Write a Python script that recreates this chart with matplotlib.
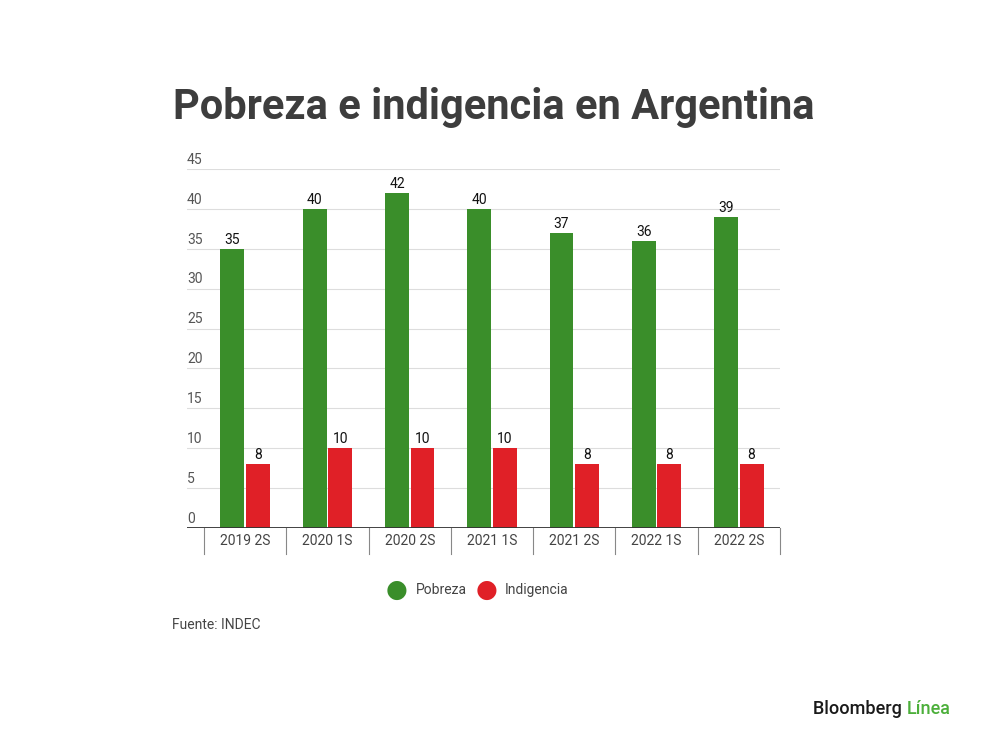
import numpy as np
import matplotlib
matplotlib.use("Agg")
import matplotlib.pyplot as plt

# datos (INDEC, % de personas)
periodos = ["2019 2S", "2020 1S", "2020 2S", "2021 1S", "2021 2S", "2022 1S", "2022 2S"]
pobreza = [35, 40, 42, 40, 37, 36, 39]
indigencia = [8, 10, 10, 10, 8, 8, 8]
y_ticks = [0, 5, 10, 15, 20, 25, 30, 35, 40, 45]

verde = "#3a8e2a"
rojo = "#e02027"

plt.rcParams["font.family"] = ["Roboto", "DejaVu Sans"]

fig = plt.figure(figsize=(10, 7.39), dpi=100)
ax = fig.add_axes([0.187, 1 - 528 / 739, 0.593, (528 - 169) / 739])

x = np.arange(len(periodos))
w = 0.29
off = 0.155
b1 = ax.bar(x - off, pobreza, w, color=verde, zorder=3)
b2 = ax.bar(x + off, indigencia, w, color=rojo, zorder=3)

for rect, v in zip(b1, pobreza):
    ax.text(rect.get_x() + rect.get_width() / 2, v + 0.25, str(v), ha="center", va="bottom",
            fontsize=10, color="#111111")
for rect, v in zip(b2, indigencia):
    ax.text(rect.get_x() + rect.get_width() / 2, v + 0.25, str(v), ha="center", va="bottom",
            fontsize=10, color="#111111")

ax.set_xlim(-0.707, 6.5)
ax.set_ylim(0, 45)

# grid lines + labels above the lines
for t in y_ticks[1:]:
    ax.axhline(t, color="#dddddd", lw=0.8, zorder=1)
for t in y_ticks:
    ax.text(-0.707, t + 1.15, str(t), ha="left", va="center", fontsize=10, color="#555555")

ax.axhline(0, color="#333333", lw=1.3, zorder=4)

# category separators
for s in np.arange(-0.5, 7, 1):
    ax.plot([s, s], [0, -3.2], color="#888888", lw=0.8, clip_on=False)
for i, p in enumerate(periodos):
    ax.text(i, -1.6, p, ha="center", va="center", fontsize=10, color="#444444")

ax.set_xticks([])
ax.set_yticks([])
for sp in ax.spines.values():
    sp.set_visible(False)

fig.text(0.173, 1 - 107 / 739, "Pobreza e indigencia en Argentina", fontsize=30,
         fontweight="bold", color="#3d3d3d", ha="left", va="center")

# legend
fig.text(0.397, 1 - 590 / 739, "\u25CF", fontsize=18, color=verde, ha="center", va="center")
fig.text(0.416, 1 - 590 / 739, "Pobreza", fontsize=10, color="#444444", ha="left", va="center")
fig.text(0.487, 1 - 590 / 739, "\u25CF", fontsize=18, color=rojo, ha="center", va="center")
fig.text(0.505, 1 - 590 / 739, "Indigencia", fontsize=10, color="#444444", ha="left", va="center")

fig.text(0.172, 1 - 625 / 739, "Fuente: INDEC", fontsize=10, color="#444444", ha="left", va="center")

t1 = fig.text(0.813, 1 - 709 / 739, "Bloomberg ", fontsize=13, fontweight="medium",
              color="#1a1a1a", ha="left", va="center")
fig.canvas.draw()
bb = t1.get_window_extent()
fig.text(bb.x1 / fig.bbox.width, 1 - 709 / 739, "Línea", fontsize=13, fontweight="medium",
         color="#4caf3a", ha="left", va="center")

fig.savefig("out.png", dpi=100, facecolor="white")
